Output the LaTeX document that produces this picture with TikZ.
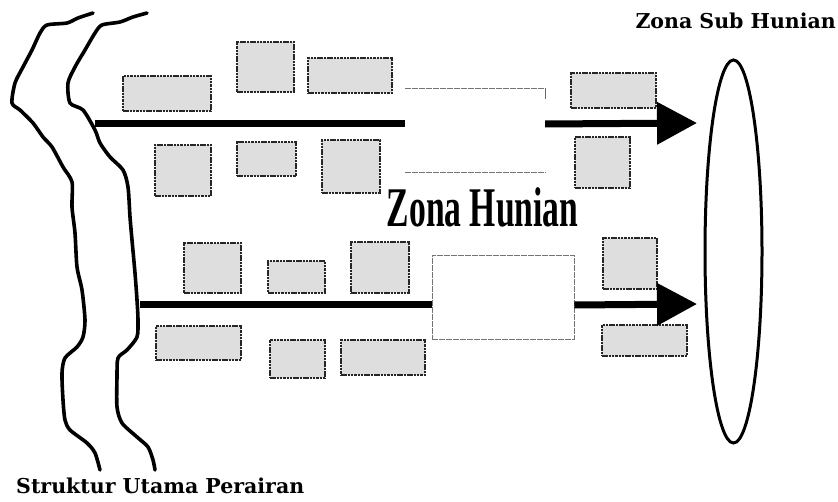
\documentclass[tikz,border=0pt]{standalone}
\usepackage{fontspec}
\setmainfont{Liberation Serif}
\newfontfamily\labelfont{DejaVu Serif}
\usetikzlibrary{shapes.geometric,arrows.meta}
\tikzset{
  gbox/.style={draw=black!85, fill=black!13, line width=1.1pt, dash pattern=on 2.5pt off 0.8pt, inner sep=0pt},
  bank/.style={line width=3.6pt, line cap=round, line join=round},
  bar/.style={line width=7pt},
  arr/.style={line width=7pt, -{Triangle[length=40pt,width=41pt]}},
  thinedge/.style={draw=black!55, line width=0.8pt, dash pattern=on 6pt off 1pt},
}
\begin{document}
\begin{tikzpicture}[x=1pt,y=-1pt]
\useasboundingbox (0,0) rectangle (838,502);
% river banks
\draw[bank] plot[smooth, tension=0.45] coordinates {(93,13) (78,18) (67,23) (47,25) (40,33) (32,50) (23,67) (15,83) (12,103) (20,110) (33,123) (43,137) (52,147) (63,167) (72,182) (72,207) (75,233) (77,267) (82,290) (85,320) (83,337) (77,347) (65,358) (62,373) (63,400) (65,420) (70,430) (87,443) (95,453) (100,470)};
\draw[bank] plot[smooth, tension=0.45] coordinates {(147,13) (133,17) (120,22) (102,25) (95,33) (85,50) (75,67) (68,83) (70,103) (83,110) (95,130) (100,143) (110,157) (123,170) (128,187) (130,217) (132,240) (135,273) (137,300) (138,320) (137,337) (127,350) (118,358) (117,377) (117,407) (122,423) (137,437) (148,447) (153,460) (155,470)};
% gray boxes
\node[gbox, minimum width=88, minimum height=35] (b1) at (167,93.5) {};
\node[gbox, minimum width=57, minimum height=50] (b2) at (265.5,67) {};
\node[gbox, minimum width=84, minimum height=35] (b3) at (350,75.5) {};
\node[gbox, minimum width=56, minimum height=51] (b4) at (183,170.5) {};
\node[gbox, minimum width=59, minimum height=34] (b5) at (266.5,159) {};
\node[gbox, minimum width=58, minimum height=53] (b6) at (351,166.5) {};
\node[gbox, minimum width=85, minimum height=35] (b7) at (613.5,90.5) {};
\node[gbox, minimum width=55, minimum height=51] (b8) at (602.5,162.5) {};
\node[gbox, minimum width=57, minimum height=50] (b9) at (212.5,268) {};
\node[gbox, minimum width=57, minimum height=32] (b10) at (296.5,277) {};
\node[gbox, minimum width=58, minimum height=51] (b11) at (380,267.5) {};
\node[gbox, minimum width=85, minimum height=34] (b12) at (198.5,343) {};
\node[gbox, minimum width=55, minimum height=38] (b13) at (297.5,359) {};
\node[gbox, minimum width=84, minimum height=35] (b14) at (383,357.5) {};
\node[gbox, minimum width=54, minimum height=51] (b15) at (630,263.5) {};
\node[gbox, minimum width=85, minimum height=31] (b16) at (644.5,340.5) {};
% top (open) box and lower box
\node[minimum width=140, minimum height=83, inner sep=0pt] (tbox) at (475,130.5) {};
\draw[thinedge] (tbox.north west) -- (tbox.north east);
\draw[thinedge] (tbox.south west) -- (tbox.south east);
\draw[black!60, line width=0.8pt] (tbox.north east) -- ++(0,10);
\node[thinedge, minimum width=142, minimum height=84, inner sep=0pt] (lbox) at (503,297) {};
% sub zone ellipse
\node[ellipse, draw, line width=3pt, minimum width=57, minimum height=383, inner sep=0pt] (sub) at (733.5,251.5) {};
% arrows
\coordinate (tl) at (95,124);
\coordinate (ttip) at (697,123);
\coordinate (ll) at (140,305);
\coordinate (ltip) at (697,304);
\draw[bar] (tl) -- (tl -| tbox.west);
\draw[arr] (tl -| tbox.east) -- (ttip);
\draw[bar] (ll) -- (ll -| lbox.west);
\draw[arr] (ll -| lbox.east) -- (ltip);
% labels
\node[anchor=base, inner sep=0pt] (zh) at (482.5,227) {\fontsize{56}{56}\selectfont\scalebox{0.6}[1]{\bfseries Zona Hunian}};
\node[anchor=base east, inner sep=0pt] (zsh) at (836,29) {\labelfont\bfseries\fontsize{20.5}{20.5}\selectfont Zona Sub Hunian};
\node[anchor=base west, inner sep=0pt] (sup) at (16,493) {\labelfont\bfseries\fontsize{20.5}{20.5}\selectfont Struktur Utama Perairan};
\end{tikzpicture}
\end{document}
